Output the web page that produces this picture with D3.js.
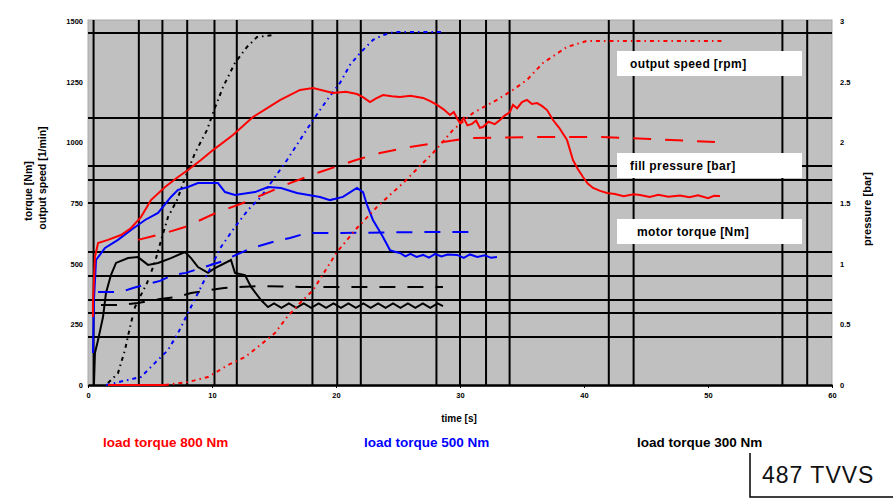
<!DOCTYPE html>
<html>
<head>
<meta charset="utf-8">
<script src="https://cdn.jsdelivr.net/npm/d3@7"></script>
<style>
  body { margin: 0; background: #fff; }
  svg { font-family: "Liberation Sans", Arial, sans-serif; }
</style>
</head>
<body>
<script>
// ticks
const timeTicks = [0, 10, 20, 30, 40, 50, 60];
const leftTicks = [0, 250, 500, 750, 1000, 1250, 1500];
const rightTicks = [0, 0.5, 1, 1.5, 2, 2.5, 3];

// marker lines drawn across the plot
const gridTimes = [0.45, 4.1, 6.0, 8.0, 10.2, 12.0, 18.1, 20.1, 22.0, 28.1, 30.0, 32.1, 34.0, 42.0, 44.0, 56.0, 58.0];
const gridLevels = [1451, 1100, 902, 845, 750, 548, 449, 350, 297, 198];

const legendNames = ["load torque 800 Nm", "load torque 500 Nm", "load torque 300 Nm"];
const boxLabels = ["output speed [rpm]", "fill pressure [bar]", "motor torque [Nm]"];

// [time s, value] — load 800 Nm (red)
const redTorque = [[0.40,280],[0.40,338],[0.56,527],[0.81,585],[1.61,598],[2.66,618],[3.47,647],[4.27,692],[5.08,762],[6.21,816],[7.26,857],[8.06,886],[9.11,927],[10.08,968],[11.69,1030],[13.3,1104],[15.48,1174],[17.1,1216],[18.15,1224],[19.76,1203],[20.8,1208],[21.69,1199],[22.2,1185],[22.74,1166],[23.2,1180],[23.79,1195],[24.5,1190],[25.16,1187],[26.0,1192],[27.02,1183],[27.6,1170],[28.15,1154],[28.7,1135],[29.19,1113],[29.5,1125],[29.8,1095],[30.0,1080],[30.3,1100],[30.6,1070],[30.97,1076],[31.3,1090],[31.6,1060],[31.85,1063],[32.3,1085],[32.8,1075],[33.23,1092],[33.6,1110],[34.03,1125],[34.27,1154],[34.6,1140],[35.0,1166],[35.4,1175],[35.8,1158],[36.21,1162],[36.6,1150],[37.02,1133],[37.5,1092],[38.0,1060],[38.63,1010],[39.11,927],[39.5,890],[39.92,857],[40.3,830],[40.73,812],[41.3,800],[41.85,791],[42.5,787],[43.2,778],[44.0,786],[44.52,783],[45.3,775],[46.0,784],[46.8,776],[47.74,781],[48.5,774],[49.2,782],[50.0,770],[50.5,780],[50.97,779]];
const redIdle = [[1.61,0],[6.21,0]];
const redSpeed = [[6.21,0],[8.06,12],[9.68,33],[11.29,82],[12.66,115],[13.71,157],[15.08,214],[16.05,280],[17.1,338],[18.15,391],[20.08,548],[21.69,647],[23.31,734],[25.4,832],[27.82,956],[29.44,1051],[31.05,1121],[32.98,1175],[34.27,1216],[35.4,1257],[36.69,1327],[38.63,1393],[40.24,1418],[51.13,1418]];
const redFill = [[4.03,598],[6.21,626],[7.82,651],[10.32,709],[12.5,750],[16.29,832],[18.71,878],[21.61,927],[23.55,956],[25.97,981],[30.81,1018],[36.45,1022],[41.29,1022],[45.32,1014],[50.56,1001]];

// load 500 Nm (blue)
const blueTorque = [[0.40,132],[0.48,350],[0.65,515],[1.37,565],[2.42,598],[3.47,639],[4.6,680],[5.65,709],[6.69,775],[7.26,804],[8.06,816],[8.87,832],[10.48,832],[11.05,795],[11.85,783],[13.47,795],[14.52,816],[15.56,812],[16.85,791],[18.71,775],[19.52,762],[20.56,775],[21.69,812],[22.18,795],[22.5,742],[22.98,680],[23.79,610],[24.35,556],[24.8,548],[25.16,544],[25.6,530],[26.0,540],[26.5,528],[27.02,536],[27.5,525],[28.0,540],[28.5,530],[29.0,538],[29.76,536],[30.3,524],[30.8,538],[31.4,528],[32.0,535],[32.5,524],[32.98,527]];
const blueSpeed = [[1.45,0],[3.23,21],[4.27,33],[5.4,91],[6.45,144],[7.26,214],[8.06,297],[8.87,379],[9.68,462],[10.73,569],[11.85,651],[12.9,721],[13.95,775],[15.08,857],[16.05,927],[17.1,1010],[18.15,1092],[19.27,1174],[20.32,1245],[21.13,1319],[21.94,1368],[22.98,1422],[23.79,1442],[24.76,1455],[28.63,1455]];
const blueFill = [[0.81,383],[2.66,383],[3.63,400],[5.81,429],[6.85,453],[7.9,462],[10.65,507],[13.23,565],[15.16,593],[16.29,606],[17.66,626],[20.08,626],[28.15,631],[31.05,631]];

// load 300 Nm (black)
const blackTorque = [[0.48,0],[0.56,132],[0.81,185],[1.21,280],[1.45,379],[1.85,453],[2.26,503],[3.23,523],[4.03,527],[4.84,495],[5.65,503],[6.69,523],[7.82,548],[8.31,523],[8.87,486],[9.68,462],[10.24,482],[11.53,515],[11.85,462],[12.66,453],[13.15,404],[13.95,350],[14.52,321],[15.0,336],[15.6,318],[16.2,336],[16.8,318],[17.4,336],[18.0,318],[18.6,336],[19.2,318],[19.8,336],[20.4,318],[21.0,336],[21.6,318],[22.2,336],[22.8,318],[23.4,336],[24.0,318],[24.6,336],[25.2,318],[25.8,336],[26.4,318],[27.0,336],[27.6,318],[28.2,336],[28.63,325]];
const blackSpeed = [[1.61,8],[2.42,49],[2.98,144],[3.39,239],[3.79,321],[4.19,363],[4.76,420],[5.4,507],[5.97,610],[6.45,692],[7.18,762],[7.98,874],[8.63,956],[9.6,1051],[10.08,1121],[10.89,1228],[11.85,1327],[12.82,1393],[13.63,1434],[14.84,1442]];
const blackFill = [[1.05,330],[2.66,330],[4.03,338],[5.81,354],[7.26,363],[8.31,379],[10.97,400],[13.71,408],[17.1,404],[28.63,404]];

const W = 895, H = 499;
const svg = d3.select("body").append("svg").attr("width", W).attr("height", H);

const x = d3.scaleLinear().domain([0, 60]).range([88, 832]);
const yL = d3.scaleLinear().domain([0, 1500]).range([385, 21]);
const yR = d3.scaleLinear().domain([0, 3]).range([385, 21]);

// plot background
svg.append("rect")
  .attr("x", 88).attr("y", 20).attr("width", 744).attr("height", 366)
  .attr("fill", "#c0c0c0").attr("stroke", "#a8a8a8").attr("stroke-width", 1);

const grid = svg.append("g").attr("stroke", "#000").attr("stroke-width", 2);
grid.selectAll(".gv").data(gridTimes).enter().append("line")
  .attr("x1", d => x(d)).attr("x2", d => x(d))
  .attr("y1", 20).attr("y2", 385);
grid.selectAll(".gh").data(gridLevels).enter().append("line")
  .attr("x1", 88).attr("x2", 832)
  .attr("y1", d => yL(d)).attr("y2", d => yL(d));

// axes
const ax = svg.append("g").attr("transform", "translate(0,385)")
  .call(d3.axisBottom(x).tickValues(timeTicks).tickSize(3).tickSizeOuter(0));
ax.select(".domain").attr("stroke-width", 2.5);
ax.selectAll("text").attr("font-size", 7.5).attr("font-weight", "bold").attr("dy", "0.95em");

const al = svg.append("g").attr("transform", "translate(86,0)")
  .call(d3.axisLeft(yL).tickValues(leftTicks).tickSize(0).tickFormat(d => String(d)));
al.select(".domain").remove();
al.selectAll("text").attr("font-size", 7.5).attr("font-weight", "bold");

const ar = svg.append("g").attr("transform", "translate(834,0)")
  .call(d3.axisRight(yR).tickValues(rightTicks).tickSize(0).tickFormat(d => String(d)));
ar.select(".domain").remove();
ar.selectAll("text").attr("font-size", 7.5).attr("font-weight", "bold").attr("x", 6);

// curves
const line = d3.line().x(d => x(d[0])).y(d => yL(d[1]));
const dashDot = "4,4,1.5,4";
const series = [
  { data: blackFill, color: "#000", dash: "16,12" },
  { data: blackSpeed, color: "#000", dash: dashDot },
  { data: blackTorque, color: "#000", dash: null },
  { data: blueFill, color: "#0000ff", dash: "16,12" },
  { data: blueSpeed, color: "#0000ff", dash: dashDot },
  { data: blueTorque, color: "#0000ff", dash: null },
  { data: redFill, color: "#ff0000", dash: "18,14" },
  { data: redIdle, color: "#ff0000", dash: null },
  { data: redSpeed, color: "#ff0000", dash: dashDot },
  { data: redTorque, color: "#ff0000", dash: null }
];
svg.append("g").selectAll("path").data(series).enter().append("path")
  .attr("d", d => line(d.data))
  .attr("fill", "none")
  .attr("stroke", d => d.color)
  .attr("stroke-width", 2)
  .attr("stroke-dasharray", d => d.dash);

// label boxes
const boxTops = [51, 153, 219];
const boxes = svg.append("g");
boxLabels.forEach((t, i) => {
  boxes.append("rect").attr("x", 617).attr("y", boxTops[i]).attr("width", 185).attr("height", 25)
    .attr("fill", "#fff");
  boxes.append("text").attr("x", i === 2 ? 637 : 630).attr("y", boxTops[i] + 12.5)
    .attr("dominant-baseline", "central").attr("font-size", 12).attr("font-weight", "bold")
    .attr("letter-spacing", 0.4).text(t);
});

// axis titles
svg.append("text").attr("transform", "translate(459,418)")
  .attr("text-anchor", "middle").attr("dominant-baseline", "central")
  .attr("font-size", 10).attr("font-weight", "bold").text("time [s]");
svg.append("text").attr("transform", "translate(28,191) rotate(-90)")
  .attr("text-anchor", "middle").attr("dominant-baseline", "central")
  .attr("font-size", 10.5).attr("font-weight", "bold").text("torque [Nm]");
svg.append("text").attr("transform", "translate(42,178) rotate(-90)")
  .attr("text-anchor", "middle").attr("dominant-baseline", "central")
  .attr("font-size", 10.5).attr("font-weight", "bold").text("output speed [1/min]");
svg.append("text").attr("transform", "translate(867,209) rotate(-90)")
  .attr("text-anchor", "middle").attr("dominant-baseline", "central")
  .attr("font-size", 11).attr("font-weight", "bold").text("pressure [bar]");

// legend
const legendX = [103, 364, 637];
const legendColors = ["#ff0000", "#0000ff", "#000"];
legendNames.forEach((n, i) => {
  svg.append("text").attr("x", legendX[i]).attr("y", 442)
    .attr("dominant-baseline", "central").attr("font-size", 13.5).attr("font-weight", "bold")
    .attr("fill", legendColors[i]).text(n);
});

// type stamp
svg.append("path").attr("d", "M750,453V497H893").attr("fill", "none").attr("stroke", "#000").attr("stroke-width", 1.5);
svg.append("text").attr("x", 762).attr("y", 483).attr("font-size", 23).attr("letter-spacing", 1)
  .attr("fill", "#111").text("487 TVVS");
</script>
</body>
</html>
